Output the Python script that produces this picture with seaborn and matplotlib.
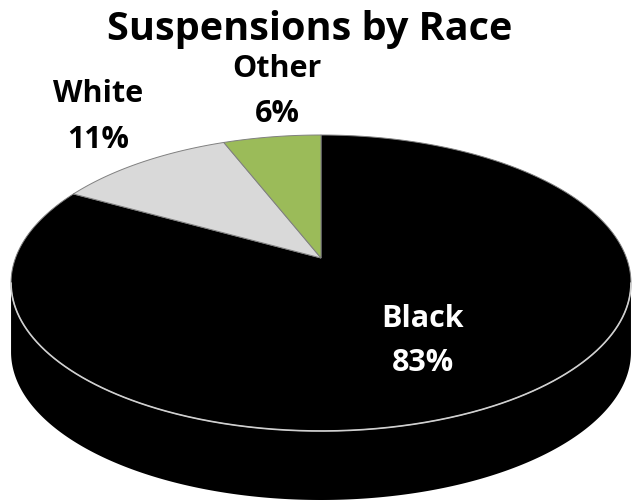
import numpy as np
import matplotlib
matplotlib.use("Agg")
import matplotlib.pyplot as plt
import seaborn as sns

# ---- data ----
categories = ["Black", "White", "Other"]
percents = [83, 11, 6]
colors = ["#000000", "#d9d9d9", "#9bbb59"]
label_colors = ["white", "black", "black"]
title = "Suspensions by Race"

# ---- layout (pixel units) ----
W, H = 632, 503
cx = 321            # horizontal centre
cy = 258            # projected centre of the pie top
k = 0.1689          # perspective factor
b = -100.2          # vertical scale
a = 305.5           # horizontal scale
depth = 69
# (x, baseline of name line, baseline of percent line)
label_pos = {"Black": (423, 327, 371), "White": (98, 102, 148), "Other": (277, 77, 122)}

sns.set_theme(style="white")
plt.rcParams["font.family"] = ["Open Sans", "DejaVu Sans"]

fig = plt.figure(figsize=(W / 100, H / 100), dpi=100)
ax = fig.add_axes([0, 0, 1, 1])
ax.set_xlim(0, W)
ax.set_ylim(H, 0)
ax.axis("off")


def pt(theta, dy=0.0, r=1.0):
    t = np.radians(theta)
    X, Z = r * np.cos(t), r * np.sin(t)
    den = 1 + k * Z
    return cx + a * X / den, (cy + b * Z) / den + dy


# slice angle ranges, clockwise from 12 o'clock
vals = np.array(percents, dtype=float)
fracs = vals / vals.sum()
starts = 90 - np.concatenate([[0], np.cumsum(fracs)[:-1]]) * 360
ends = starts - fracs * 360

sil = np.degrees(np.arcsin(k))
vis_lo, vis_hi = -180 + sil, -sil

# side walls (front visible part)
for s, e, c in zip(starts, ends, colors):
    for off in (0, -360, 360):
        a0, a1 = e + off, s + off
        lo, hi = max(a0, vis_lo), min(a1, vis_hi)
        if lo < hi:
            th = np.linspace(lo, hi, 300)
            x_top, y_top = pt(th)
            x_bot, y_bot = pt(th, depth)
            xs = np.concatenate([x_top, x_bot[::-1]])
            ys = np.concatenate([y_top, y_bot[::-1]])
            ax.fill(xs, ys, color=c, lw=0)

# top faces
x0, y0 = pt(0, r=0.0)
for s, e, c in zip(starts, ends, colors):
    th = np.linspace(s, e, 300)
    x, y = pt(th)
    xs = np.concatenate([[x0], x, [x0]])
    ys = np.concatenate([[y0], y, [y0]])
    ax.fill(xs, ys, facecolor=c, edgecolor="#808080", lw=0.7)

# highlight edge between top and side
th = np.linspace(vis_lo, vis_hi, 400)
x, y = pt(th)
ax.plot(x, y, color="#d0d0d0", lw=1.2)

# labels
for name, p, lc in zip(categories, percents, label_colors):
    lx, ly1, ly2 = label_pos[name]
    ax.text(lx, ly1, name, ha="center", va="baseline", fontsize=22,
            fontweight="bold", color=lc)
    ax.text(lx, ly2, f"{p}%", ha="center", va="baseline", fontsize=22,
            fontweight="bold", color=lc)

ax.text(310, 40, title, ha="center", va="baseline", fontsize=28.5, fontweight="bold",
        color="black")

fig.savefig("out.png", dpi=100)
